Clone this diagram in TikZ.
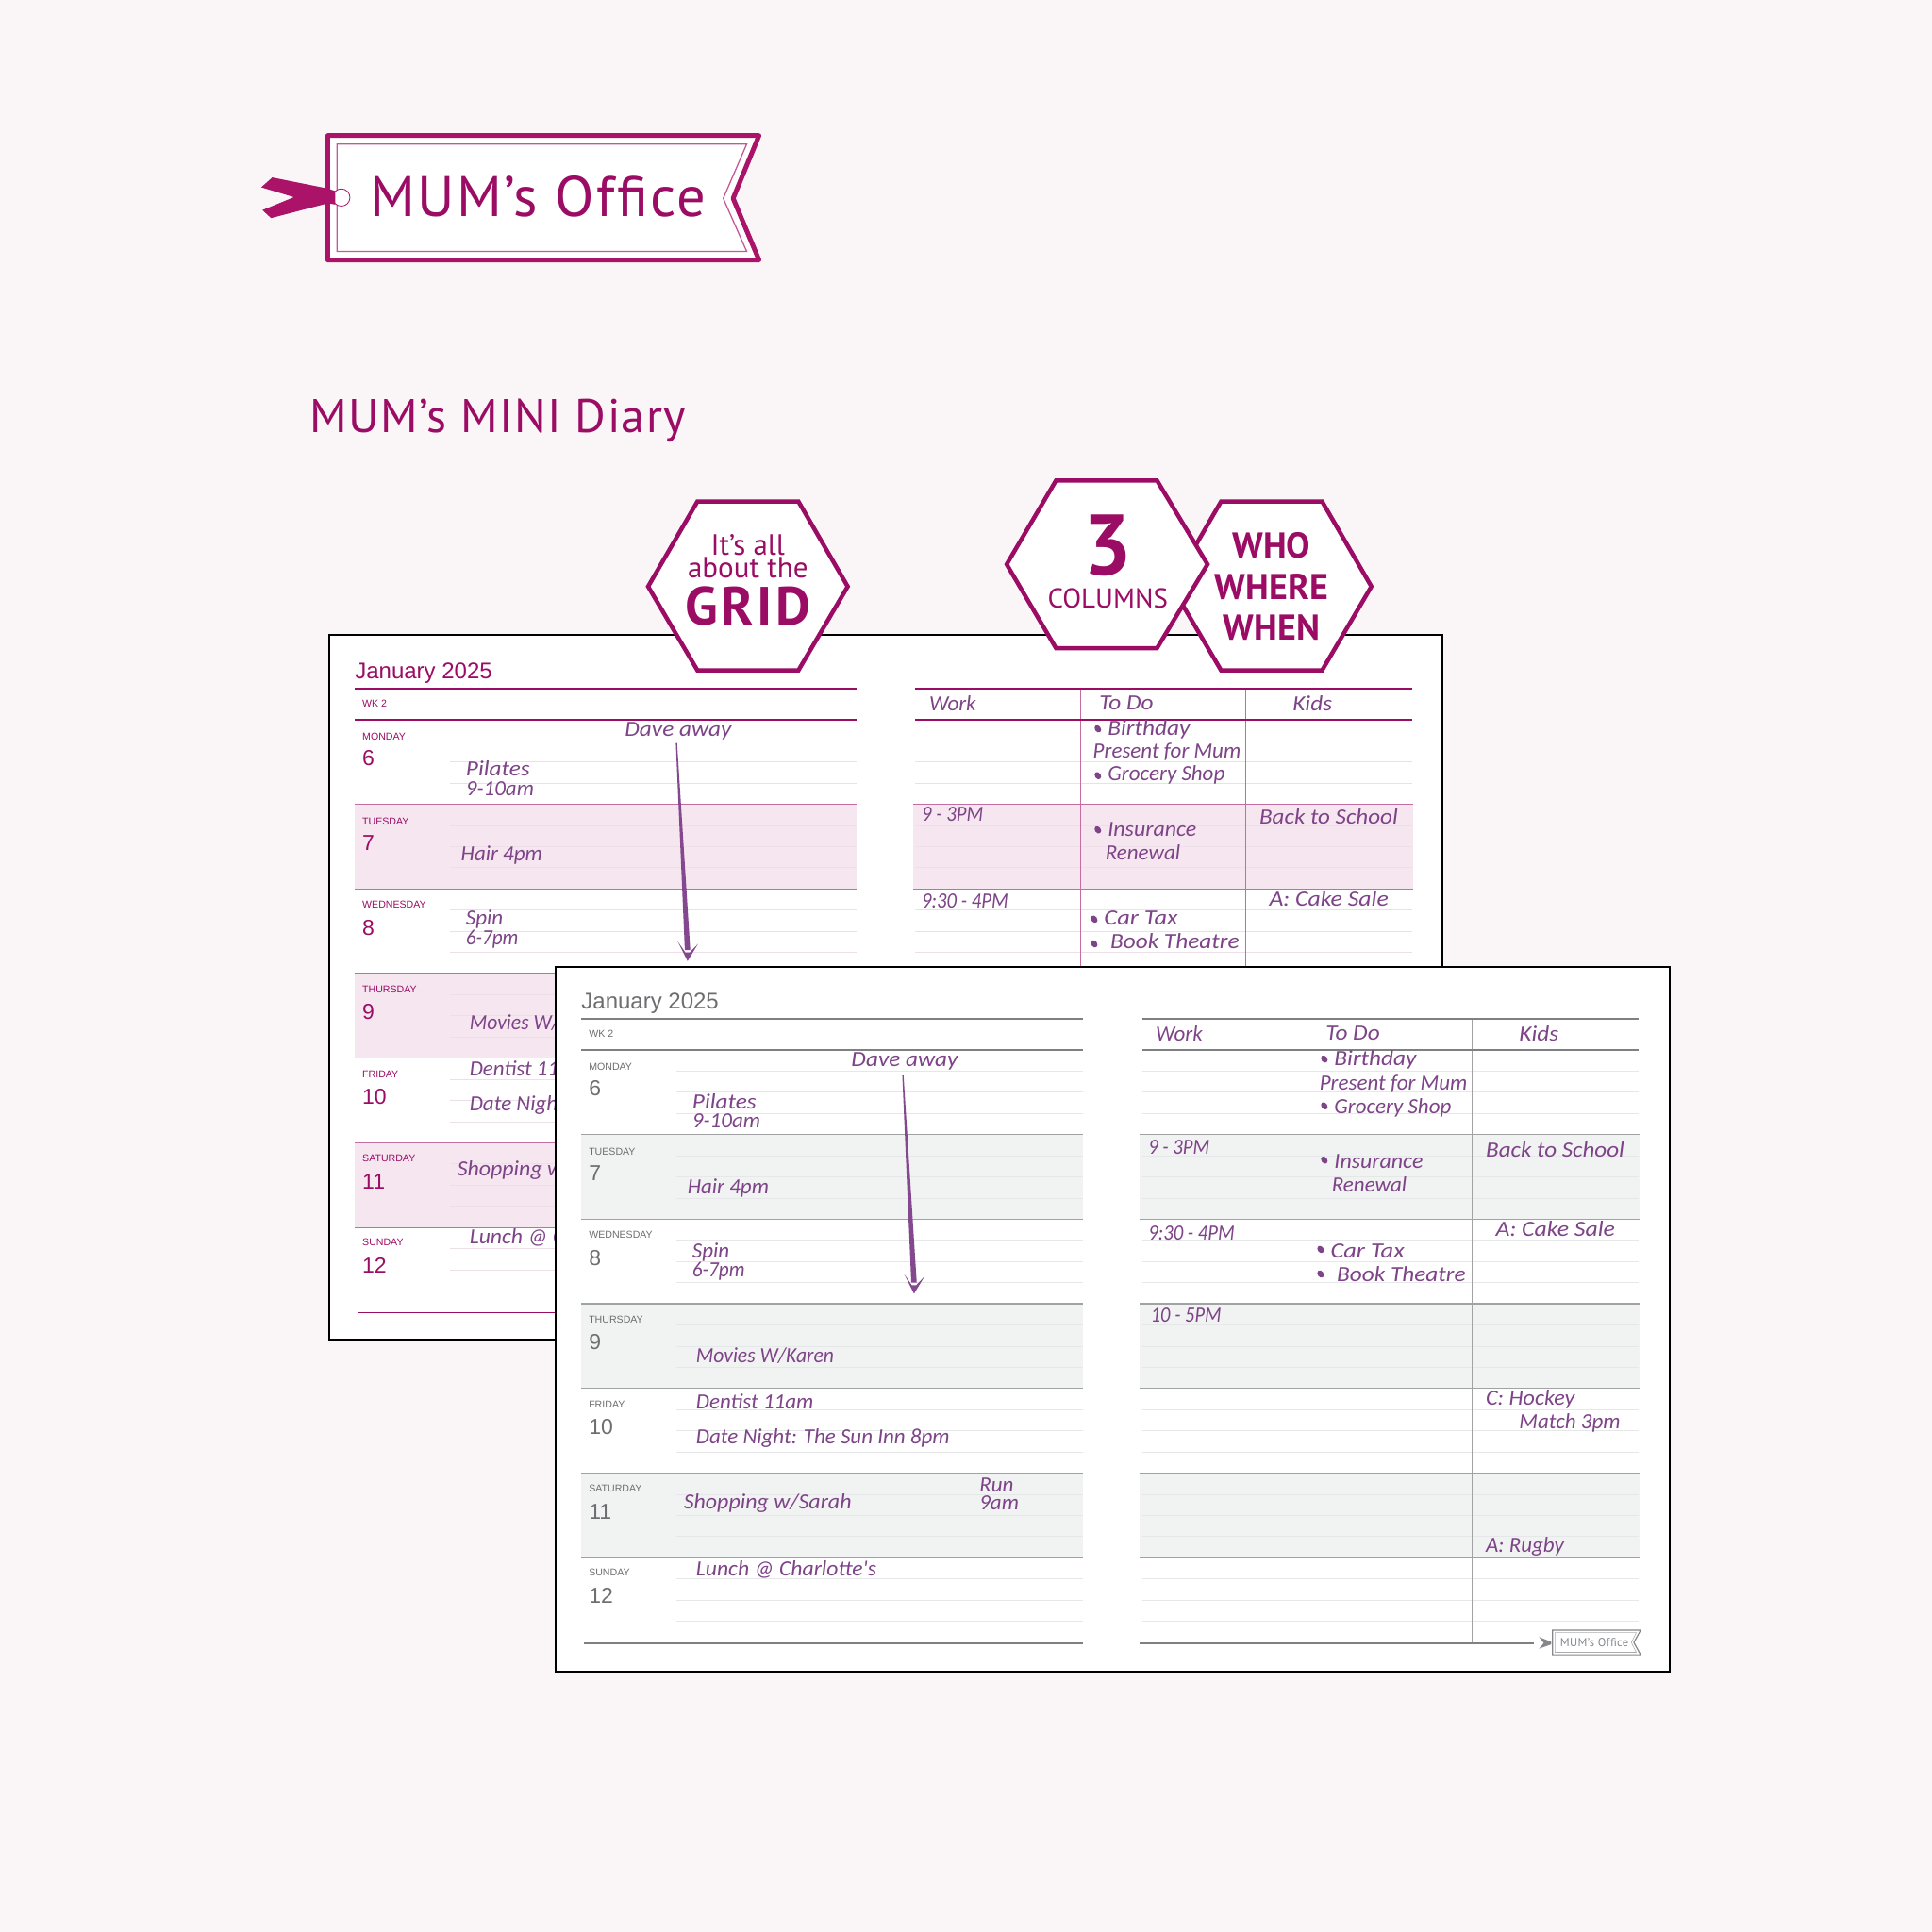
\documentclass[tikz,border=0pt]{standalone}
\usepackage{fontspec}
\usetikzlibrary{calc}
\setmainfont{Liberation Sans}
\newfontfamily\din{PT Sans}
\newfontfamily\hand{Carlito}
\definecolor{pagebg}{HTML}{FAF6F8}
\definecolor{tagmag}{HTML}{AB1368}
\definecolor{deepmag}{HTML}{9B0C65}
\definecolor{inkpurple}{HTML}{7E4488}
\definecolor{footgrey}{HTML}{85878A}
\definecolor{arrowink}{HTML}{84488F}
\newcommand\fsz[1]{\fontsize{#1}{#1}\selectfont}
\newcommand\wx[2]{\scalebox{#1}[1]{#2}}
\tikzset{
  x=1.30612pt,y=-1.30612pt,
  hw/.style={anchor=west,inner sep=0pt,text=inkpurple,font=\hand\itshape\fsz{23},yshift=\handshift},
  hwfix/.style={anchor=west,inner sep=0pt,text=inkpurple,font=\hand\itshape\fsz{23}},
  daylab/.style={anchor=west,inner sep=0pt,text=pgmain,font=\fsz{10.6}},
  datenum/.style={anchor=west,inner sep=0pt,text=pgmain,font=\fsz{23}},
  majorrule/.style={draw=pgrule,line width=1.6pt},
  rowrule/.style={draw=pgrow,line width=1.3pt},
  lightrule/.style={draw=pglight,line width=0.9pt},
  hexbox/.style={draw=deepmag,fill=white,line width=4.5pt,miter limit=10},
  hextext/.style={inner sep=0pt,text=deepmag},
  pagebox/.style={draw=black,fill=white,line width=2pt},
}
% #1 prefix, #2 x shift, #3 y shift (display units), #4 hand shift
\newcommand\diarypage[4]{%
\def\pg{#1}\def\handshift{#4}%
\begin{scope}[shift={(#2,#3)}]
  \foreach \i in {1,3,5}{
    \fill[pgshade] (288,584+68.7*\i) rectangle (695,584+68.7*\i+68.7);
    \fill[pgshade] (741,584+68.7*\i) rectangle (1147,584+68.7*\i+68.7);
  }
  \foreach \i in {0,...,6}{
    \foreach \k in {1,2,3}{
      \draw[lightrule] (365,584+68.7*\i+17.2*\k) -- (695,584+68.7*\i+17.2*\k);
      \draw[lightrule] (743,584+68.7*\i+17.2*\k) -- (1146,584+68.7*\i+17.2*\k);
    }
  }
  \foreach \i in {1,...,6}{
    \draw[rowrule] (288,584+68.7*\i) -- (695,584+68.7*\i);
    \draw[rowrule] (741,584+68.7*\i) -- (1147,584+68.7*\i);
  }
  \draw[pgrow,line width=1pt] (877,559) -- (877,1065);
  \draw[pgrow,line width=1pt] (1011,559) -- (1011,1065);
  \draw[majorrule] (288,559) -- (695,559);
  \draw[majorrule] (743,559) -- (1146,559);
  \draw[majorrule] (288,584) -- (695,584);
  \draw[majorrule] (743,584) -- (1146,584);
  \draw[majorrule] (290,1065.5) -- (695,1065.5);
  \draw[majorrule] (741,1065.5) -- (1061,1065.5);
  \node[anchor=base west,inner sep=0pt,text=pgmain,font=\fsz{24}] (\pg-title) at (288,551) {January 2025};
  \node[daylab] (\pg-wk) at (294,571) {WK 2};
  \node[daylab] (\pg-mon) at (294,598) {MONDAY};   \node[datenum] (\pg-n6) at (294,615) {6};
  \node[daylab] (\pg-tue) at (294,667) {TUESDAY};  \node[datenum] (\pg-n7) at (294,684) {7};
  \node[daylab] (\pg-wed) at (294,734) {WEDNESDAY};\node[datenum] (\pg-n8) at (294,753) {8};
  \node[daylab] (\pg-thu) at (294,803) {THURSDAY}; \node[datenum] (\pg-n9) at (294,821) {9};
  \node[daylab] (\pg-fri) at (294,872) {FRIDAY};   \node[datenum] (\pg-n10) at (294,890) {10};
  \node[daylab] (\pg-sat) at (294,940) {SATURDAY}; \node[datenum] (\pg-n11) at (294,959) {11};
  \node[daylab] (\pg-sun) at (294,1008) {SUNDAY};  \node[datenum] (\pg-n12) at (294,1027) {12};
  % handwriting, left page
  \node[hwfix] (\pg-dave) at (507,593) {\wx{1.1}{Dave away}};
  \node[hw] (\pg-pil) at (378,624) {\wx{1.1}{Pilates}};
  \node[hw] (\pg-pilt) at (378,640) {9-10am};
  \node[hw] (\pg-hair) at (374,694) {Hair 4pm};
  \node[hw] (\pg-spin) at (378,746) {Spin};
  \node[hw] (\pg-spint) at (378,762) {\wx{0.92}{6-7pm}};
  \node[hw] (\pg-mov) at (381,830) {\wx{0.94}{Movies W/Karen}};
  \node[hw] (\pg-den) at (381,867.5) {Dentist 11am};
  \node[hw] (\pg-date) at (381,897) {Date Night: The Sun Inn 8pm};
  \node[hw] (\pg-shop) at (371,950) {\wx{1.04}{Shopping w/Sarah}};
  \node[hw] (\pg-run) at (611,935) {Run};
  \node[hw] (\pg-runt) at (611,950) {9am};
  \node[hw] (\pg-lun) at (381,1004) {\wx{1.03}{Lunch @ Charlotte's}};
  % handwriting, right page
  \node[hwfix] (\pg-work) at (754,570.5) {Work};
  \node[hwfix] (\pg-todo) at (892,570.5) {\wx{1.1}{To Do}};
  \node[hwfix] (\pg-kids) at (1049,570.5) {\wx{1.1}{Kids}};
  \node[hwfix] (\pg-birth) at (899,592) {\wx{1.1}{Birthday}};
  \node[hw] (\pg-pres) at (887,610) {Present for Mum};
  \node[hw] (\pg-groc) at (899,629) {Grocery Shop};
  \node[hw] (\pg-w1) at (748,661) {\wx{0.9}{9 - 3PM}};
  \node[hw] (\pg-back) at (1022,663) {\wx{1.09}{Back to School}};
  \node[hw] (\pg-ins) at (899,673) {\wx{1.04}{Insurance}};
  \node[hw] (\pg-ren) at (897,691.5) {Renewal};
  \node[hw] (\pg-w2) at (748,731) {\wx{0.9}{9:30 - 4PM}};
  \node[hwfix] (\pg-cake) at (1030,729) {\wx{1.12}{A: Cake Sale}};
  \node[hw] (\pg-car) at (896,745) {\wx{1.15}{Car Tax}};
  \node[hw] (\pg-book) at (901,764) {\wx{1.1}{Book Theatre}};
  \node[hw] (\pg-w3) at (750,797) {\wx{0.89}{10 - 5PM}};
  \node[hw] (\pg-hock) at (1022,866) {\wx{1.05}{C: Hockey}};
  \node[hw] (\pg-match) at (1049,885) {Match 3pm};
  \node[hw] (\pg-rug) at (1022,985) {A: Rugby};
  \foreach \bx/\by in {891/591.5,891/629.5,891/673.5,888/746,888/766}{
    \fill[inkpurple,rotate around={35:(\bx,\by)}] (\bx,\by) ellipse (2.4 and 3.2);
  }
  % arrow from Dave away
  \coordinate[yshift=\handshift] (\pg-tail) at (549,603);
  \coordinate[yshift=\handshift] (\pg-tip) at (558,780);
  \fill[arrowink] ($(\pg-tail)+(-0.5,0)$) -- ($(\pg-tail)+(0.5,0)$) -- ($(\pg-tip)+(2.2,-9)$) -- ($(\pg-tip)+(-2.2,-9)$) -- cycle;
  \fill[arrowink] (\pg-tip) -- ($(\pg-tip)+(-8,-16)$) -- ($(\pg-tip)+(-1.8,-7)$) -- ($(\pg-tip)+(1.8,-7)$) -- ($(\pg-tip)+(8.5,-14)$) -- cycle;
\end{scope}}
\begin{document}
\begin{tikzpicture}
\useasboundingbox (0,0) rectangle (1568,1568);
\fill[pagebg] (0,0) rectangle (1568,1568);
% logo tag
\draw[tagmag,fill=white,line width=5pt,line join=round] (266,110) -- (616,110) -- (595,161) -- (616,211) -- (266,211) -- cycle;
\draw[tagmag!70,line width=1.3pt] (273.5,117) -- (606,117) -- (587,161) -- (606,204) -- (273.5,204) -- cycle;
\draw[tagmag,fill=white,line width=0.8pt] (277,160.3) circle (7);
\fill[tagmag] (221,144) -- (212,152) -- (238.6,160) -- (213,170.5) -- (220,177) -- (266,165) -- (272,166) -- (272,155) -- (266,153) -- cycle;
\fill[tagmag] (265,158) circle (5);
\node[inner sep=0pt,anchor=base west,text=deepmag,font=\din\fsz{60.5}\addfontfeatures{LetterSpace=4}] (logotext) at (300,176) {MUM’s Office};
\node[inner sep=0pt,anchor=base west,text=deepmag,font=\din\fsz{50}\addfontfeatures{LetterSpace=3}] (minititle) at (251,351) {MUM’s MINI Diary};
% back page
\colorlet{pgmain}{deepmag}\colorlet{pgrule}{deepmag}\colorlet{pgrow}{deepmag!60}
\definecolor{pglight}{HTML}{EDDFE8}\definecolor{pgshade}{HTML}{F5E6F0}
\draw[pagebox] (267,515) rectangle (1171,1087);
\diarypage{b}{0}{0}{0pt}
% front page
\definecolor{pgmain}{HTML}{6D6E70}\definecolor{pgrule}{HTML}{7F8082}\definecolor{pgrow}{HTML}{A0A2A4}
\definecolor{pglight}{HTML}{E6E7E8}\definecolor{pgshade}{HTML}{F1F2F2}
\draw[pagebox] (451,785) rectangle (1355,1357);
\diarypage{f}{183.8}{268}{-2.6pt}
% footer tag
\draw[footgrey,line width=1.2pt] (1260,1323) -- (1331.5,1323) -- (1326,1333) -- (1331.5,1343) -- (1260,1343) -- cycle;
\draw[footgrey!70,line width=0.6pt] (1262,1325) -- (1328,1325) -- (1324,1333) -- (1328,1341) -- (1262,1341) -- cycle;
\fill[footgrey] (1249,1328.5) -- (1259,1332.5) -- (1259,1334.5) -- (1249,1338) -- (1253,1333.5) -- cycle;
\node[inner sep=0pt,anchor=base west,text=footgrey,font=\din\fsz{12.5}\addfontfeatures{LetterSpace=3}] (foottext) at (1266,1336.5) {MUM’s Office};
% hexagons
\draw[hexbox] (566,407) -- (648,407) -- (688,476) -- (648,544) -- (566,544) -- (526,476) -- cycle;
\node[hextext,font=\din\fsz{31}] (grida) at (607,442) {It’s all};
\node[hextext,font=\din\fsz{31}] (gridb) at (607,461) {about the};
\node[hextext,font=\din\bfseries\fsz{57}\addfontfeatures{LetterSpace=6}] (gridc) at (607,492) {GRID};
\draw[hexbox] (991,407) -- (1073,407) -- (1113,476) -- (1073,544) -- (991,544) -- (951,476) -- cycle;
\node[hextext,font=\din\bfseries\fsz{38}] (whoa) at (1032,443) {WHO};
\node[hextext,font=\din\bfseries\fsz{38}] (whob) at (1032,476) {WHERE};
\node[hextext,font=\din\bfseries\fsz{38}] (whoc) at (1032,509) {WHEN};
\draw[hexbox] (857,390) -- (939,390) -- (980,458) -- (939,526) -- (857,526) -- (817,458) -- cycle;
\node[hextext,font=\din\bfseries\fsz{91}] (threea) at (899,443) {3};
\node[hextext,font=\din\fsz{29}] (threeb) at (899,486) {COLUMNS};
\end{tikzpicture}
\end{document}
